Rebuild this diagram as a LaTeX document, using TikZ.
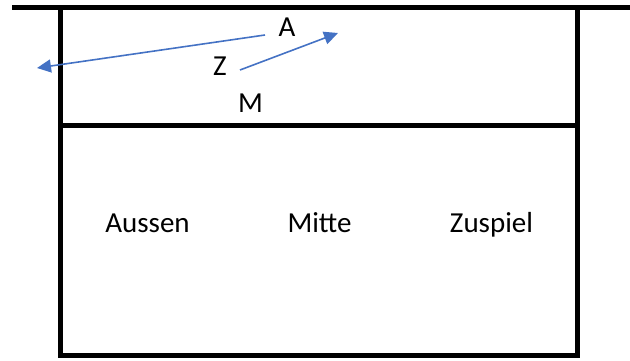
\documentclass[tikz,border=0pt]{standalone}
\usepackage{fontspec}
\setmainfont{Carlito}
\usepackage{tikz}
\usetikzlibrary{arrows.meta, positioning}
\definecolor{officeblue}{RGB}{68,114,196}
\tikzset{
  court/.style={line width=5pt, black, line join=miter, line cap=rect},
  lbl/.style={font=\fontsize{29}{33}\selectfont, inner sep=0pt, anchor=base},
  move/.style={officeblue, line width=1.6pt, -{Triangle[length=14pt, width=13pt]}},
}
\begin{document}
\begin{tikzpicture}[x=1pt, y=-1pt]
    \useasboundingbox (0,0) rectangle (630,361);

    % ─── Court outline ──────────────────────────────
    \draw[court, line cap=butt] (12,7.5) -- (630,7.5);
    \draw[court] (60.5,7.5) -- (60.5,355.5) -- (577,355.5) -- (577,7.5);
    \draw[court] (60.5,125.5) -- (577,125.5);

    % ─── Front zone ─────────────────────────────────
    \node[lbl] (a) at (287,37) {A};
    \node[lbl] (z) at (220,76) {Z};
    \node[lbl] (m) at (250.5,113) {M};

    \coordinate (aStart) at (265,35);
    \coordinate (aEnd) at (37,68);
    \coordinate (zStart) at (240,70);
    \coordinate (zEnd) at (338,33);
    \draw[move] (aStart) -- (aEnd);
    \draw[move] (zStart) -- (zEnd);

    % ─── Back zone ──────────────────────────────────
    \node[lbl] (aussen) at (147.5,232) {Aussen};
    \node[lbl] (mitte) at (319.5,232) {Mitte};
    \node[lbl] (zuspiel) at (491.5,232) {Zuspiel};

\end{tikzpicture}
\end{document}
